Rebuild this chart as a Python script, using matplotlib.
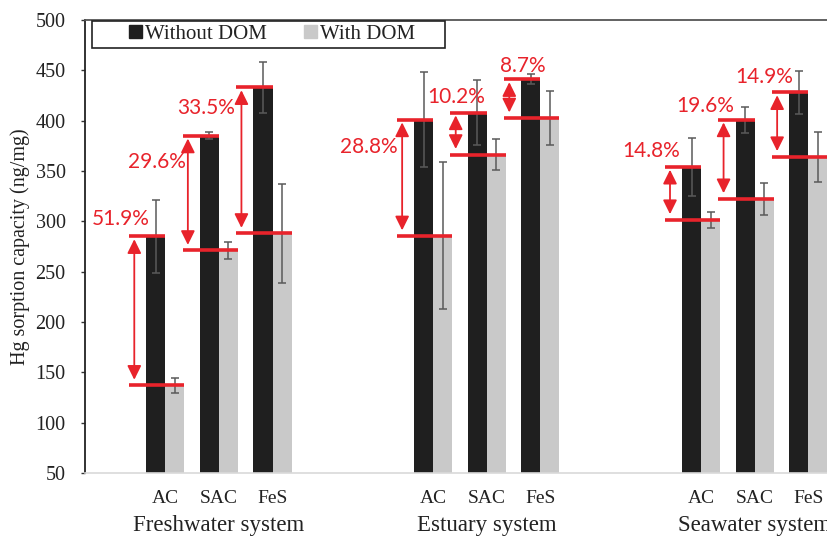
import matplotlib
matplotlib.use("Agg")
import matplotlib.pyplot as plt
import numpy as np
from matplotlib.patches import Patch, Rectangle

# Hg sorption capacity (ng/mg) of each sorbent, without and with DOM
systems = ['Freshwater system', 'Estuary system', 'Seawater system']
materials = ['AC', 'SAC', 'FeS']
without_dom = np.array([285, 385, 433, 401, 408, 441, 354, 401, 428])
without_err = np.array([36, 3.5, 25, 47, 32, 5, 29, 13, 21])
# percentage decrease caused by DOM
reduction = np.array([51.9, 29.6, 33.5, 28.8, 10.2, 8.7, 14.8, 19.6, 14.9])
with_dom = without_dom * (1 - reduction / 100)
with_err = np.array([7.5, 8, 49, 73, 15, 27, 8, 16, 25])

# category slots (two empty slots between systems)
slots = np.array([1, 2, 3, 6, 7, 8, 11, 12, 13])
# where each percentage label sits, relative to its bar pair
label_dx = [-0.83, -1.16, -1.24, -1.20, -0.58, -0.33, -0.94, -0.93, -0.83]
label_dy = [17, -26, -20, -27, 15.5, 13, 16, 13.5, 15]

RED = '#e8232b'
DARK = '#1f1f1f'
LIGHT = '#c9c9c9'
TXT = '#222222'
serif = 'Liberation Serif'

fig = plt.figure(figsize=(8.27, 5.37), dpi=100)
ax = fig.add_axes([85 / 827, 64 / 537, 750 / 827, 453 / 537])

w = 0.355
ax.bar(slots - w / 2, without_dom, w, color=DARK, zorder=2)
ax.bar(slots + w / 2, with_dom, w, color=LIGHT, zorder=2)
ebar = dict(fmt='none', ecolor='#5a5a5a', elinewidth=1.1, capsize=3,
            capthick=1.1, zorder=3)
ax.errorbar(slots - w / 2, without_dom, yerr=without_err, **ebar)
ax.errorbar(slots + w / 2, with_dom, yerr=with_err, **ebar)

# red markers for the drop between the two bars
for i, c in enumerate(slots):
    top, bot = without_dom[i], with_dom[i]
    ax.plot([c - 0.68, c], [top, top], color=RED, lw=2.6, zorder=4,
            solid_capstyle='butt')
    ax.plot([c - 0.68, c + w], [bot, bot], color=RED, lw=2.6, zorder=4,
            solid_capstyle='butt')
    ax.annotate('', xy=(c - 0.58, top), xytext=(c - 0.58, bot),
                arrowprops=dict(arrowstyle='<|-|>,head_length=0.85,head_width=0.42',
                                color=RED, lw=1.3, shrinkA=4, shrinkB=2,
                                mutation_scale=10),
                zorder=4)
    ax.text(c + label_dx[i], top + label_dy[i], f'{reduction[i]}%',
            color=RED, fontsize=15, family='Lato', ha='center', va='center',
            zorder=5)

ax.set_xlim(-0.5, 13.5)
ax.set_ylim(50, 500)
ax.set_yticks(np.arange(50, 501, 50))
ax.set_xticks(slots)
ax.set_xticklabels(materials * 3, family=serif, fontsize=14, color=TXT)
ax.tick_params(axis='x', length=0, pad=12)
ax.tick_params(axis='y', length=3, width=1, color='#333333', labelsize=14.5,
               labelcolor=TXT, pad=11)
for lab in ax.get_yticklabels():
    lab.set_family(serif)

ax.spines['left'].set_color(TXT)
ax.spines['left'].set_linewidth(1.3)
ax.spines['top'].set_color('#555555')
ax.spines['top'].set_linewidth(1.3)
ax.spines['right'].set_visible(False)
ax.spines['bottom'].set_color('#d9d9d9')
ax.spines['bottom'].set_linewidth(1.2)

for k, name in enumerate(systems):
    ax.text(slots[3 * k + 1], -0.115, name, transform=ax.get_xaxis_transform(),
            ha='center', va='center', family=serif, fontsize=16.5, color=TXT)

ax.set_ylabel('Hg sorption capacity (ng/mg)', family=serif, fontsize=14.5,
              color=TXT, labelpad=4)

# legend box drawn separately so the entries can sit centred inside it
ax.add_patch(Rectangle((0.0093, 0.938), 0.471, 0.06, transform=ax.transAxes,
                       facecolor='white', edgecolor=TXT, lw=1.2,
                       clip_on=False, zorder=6))
handles = [Patch(color=DARK, label='Without DOM'),
           Patch(color=LIGHT, label='With DOM')]
leg = ax.legend(handles=handles, loc='center left',
                bbox_to_anchor=(0.0587, 0.968), ncol=2, frameon=False,
                borderaxespad=0, borderpad=0, handlelength=0.6,
                handleheight=0.6, handletextpad=0.15, columnspacing=1.8,
                prop=dict(family=serif, size=15))
leg.set_zorder(7)
for t in leg.get_texts():
    t.set_color(TXT)

fig.savefig('out.png', dpi=100)
